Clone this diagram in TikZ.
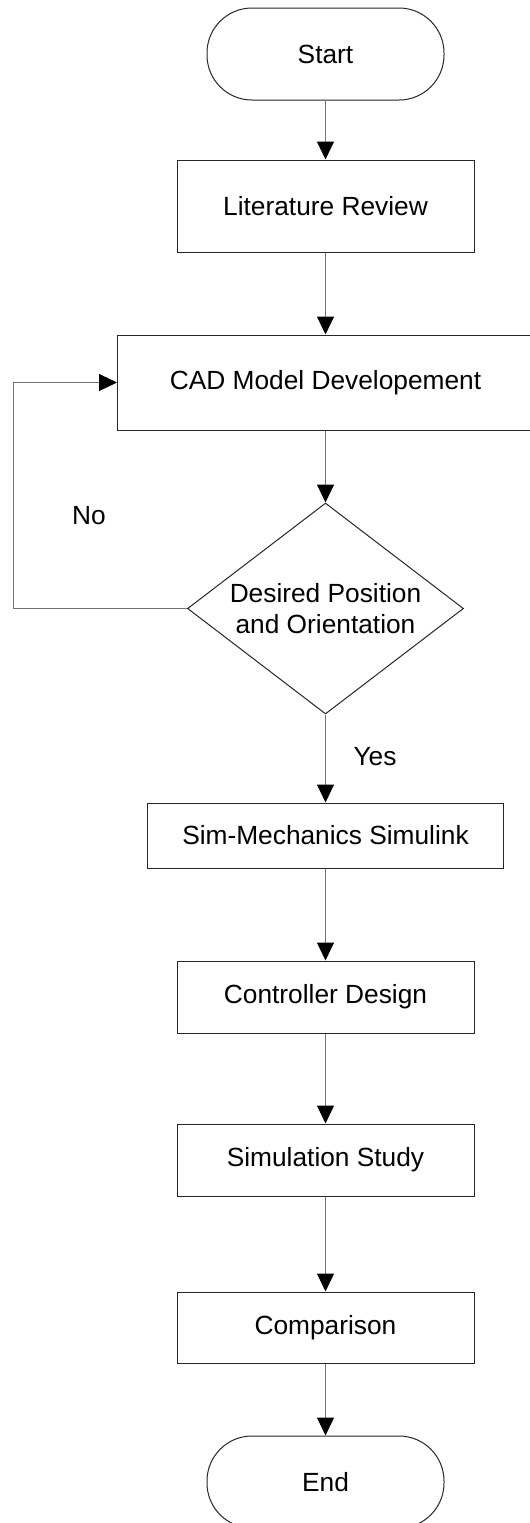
\documentclass[tikz,border=0pt]{standalone}
\usepackage{fontspec}
\setmainfont{Liberation Sans}
\usetikzlibrary{arrows.meta,shapes.geometric}
\begin{document}
\begin{tikzpicture}[x=0.5pt,y=-0.5pt,
  every node/.style={font=\fontsize{13.15pt}{15.5pt}\selectfont},
  box/.style={draw=black!85, line width=0.5pt, rectangle, inner sep=0pt, align=center},
  terminal/.style={draw=black!85, line width=0.5pt, rectangle, rounded corners=22.5pt,
    minimum width=118.5pt, minimum height=46pt, inner sep=0pt},
  decision/.style={draw=black!85, line width=0.5pt, diamond, aspect=1.31, inner sep=0pt,
    minimum width=138pt, minimum height=105.5pt, align=center},
  flow/.style={draw=black!55, line width=0.5pt,
    -{Triangle[width=8.5pt,length=9pt,color=black]}},
  lbl/.style={inner sep=0pt}
]
\path[use as bounding box, clip] (0,0) rectangle (530,1523);

% process chain
\node[terminal] (start) at (325.5,54) {Start};
\node[box, minimum width=148.5pt, minimum height=46pt] (lit) at (325.5,206) {Literature Review};
\node[box, minimum width=208pt, minimum height=47.5pt] (cad) at (325.5,382.5) {CAD Model Developement};
\node[decision] (dec) at (325.5,608.5) {Desired Position\\and Orientation};
\node[box, minimum width=178pt, minimum height=32.5pt] (sim) at (325.5,835.5) {Sim-Mechanics Simulink};
\node[box, minimum width=148.5pt, minimum height=36pt] (ctrl) at (325.5,997) {Controller Design};
\node[box, minimum width=148.5pt, minimum height=36pt] (study) at (325.5,1160) {Simulation Study};
\node[box, minimum width=148.5pt, minimum height=35.5pt] (cmp) at (325.5,1327.5) {Comparison};
\node[terminal] (end) at (325.5,1482) {End};

% branch labels
\node[lbl] (no) at (89,516) {No};
\node[lbl] (yes) at (375,757) {Yes};

% connectors
\draw[flow] (start) -- (lit);
\draw[flow] (lit) -- (cad);
\draw[flow] (cad) -- (dec);
\draw[flow] (dec) -- (sim);
\draw[flow] (sim) -- (ctrl);
\draw[flow] (ctrl) -- (study);
\draw[flow] (study) -- (cmp);
\draw[flow] (cmp) -- (end);

% feedback loop back to the CAD step
\coordinate (loop) at (13,608.5);
\draw[flow] (dec.west) -- (loop) |- (cad.west);
\end{tikzpicture}
\end{document}
